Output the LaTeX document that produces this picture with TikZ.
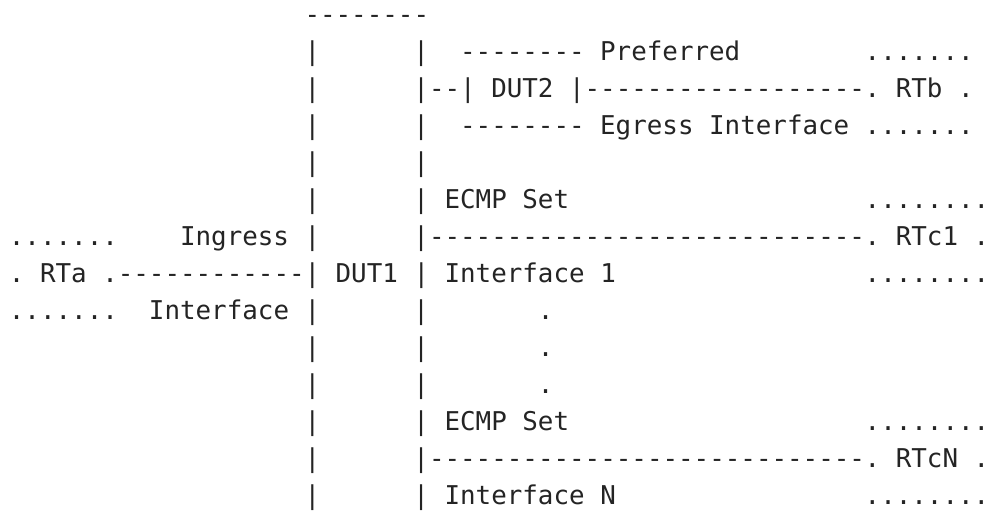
\documentclass[tikz,border=0pt]{standalone}
\usepackage{fontspec}
\setmonofont{DejaVu Sans Mono}
\usepackage{tikz}
\definecolor{ink}{HTML}{242424}

\begin{document}
\begin{tikzpicture}
      [x=11.67pt,y=-27.75pt,
       ascii/.style={font=\ttfamily\frenchspacing\fontsize{19.4}{22}\selectfont,text=ink}]
      \tikzstyle{every node}=[ascii,anchor=base west,inner sep=0pt,outer sep=0pt]
      \useasboundingbox (-0.572,-0.622) rectangle (62.99,13.73);
      % DUT1 box
      \node (dutonetop) at (19,0) {--------};
      \foreach \r in {1,...,6,8,9,...,13}
        \node (dutonel\r) at (19,\r) {|};
      \foreach \r in {1,...,6,8,9,...,13}
        \node (dutoner\r) at (26,\r) {|};
      \node (dutone) at (19,7) {| DUT1 |};
      % ingress side
      \node (rtatop) at (0,6) {.......};
      \node (rta) at (0,7) {. RTa .};
      \node (rtabot) at (0,8) {.......};
      \node (ingress) at (11,6) {Ingress};
      \node (ingressif) at (9,8) {Interface};
      \node (lnka) at (7,7) {------------};
      % preferred egress, DUT2
      \node (duttwotop) at (29,1) {--------};
      \node (lnkbone) at (27,2) {--};
      \node (duttwo) at (29,2) {| DUT2 |};
      \node (duttwobot) at (29,3) {--------};
      \node (preferred) at (38,1) {Preferred};
      \node (egressif) at (38,3) {Egress Interface};
      \node (lnkbtwo) at (37,2) {------------------};
      \node (rtbtop) at (55,1) {.......};
      \node (rtb) at (55,2) {. RTb .};
      \node (rtbbot) at (55,3) {.......};
      % ECMP set 1
      \node (ecmpone) at (28,5) {ECMP Set};
      \node (lnkcone) at (27,6) {----------------------------};
      \node (ecmpifone) at (28,7) {Interface 1};
      \node (rtconetop) at (55,5) {........};
      \node (rtcone) at (55,6) {. RTc1 .};
      \node (rtconebot) at (55,7) {........};
      % more sets
      \foreach \r in {8,9,10}
        \node (vdots\r) at (34,\r) {.};
      % ECMP set N
      \node (ecmpn) at (28,11) {ECMP Set};
      \node (lnkcn) at (27,12) {----------------------------};
      \node (ecmpifn) at (28,13) {Interface N};
      \node (rtcntop) at (55,11) {........};
      \node (rtcn) at (55,12) {. RTcN .};
      \node (rtcnbot) at (55,13) {........};
    \end{tikzpicture}
\end{document}
